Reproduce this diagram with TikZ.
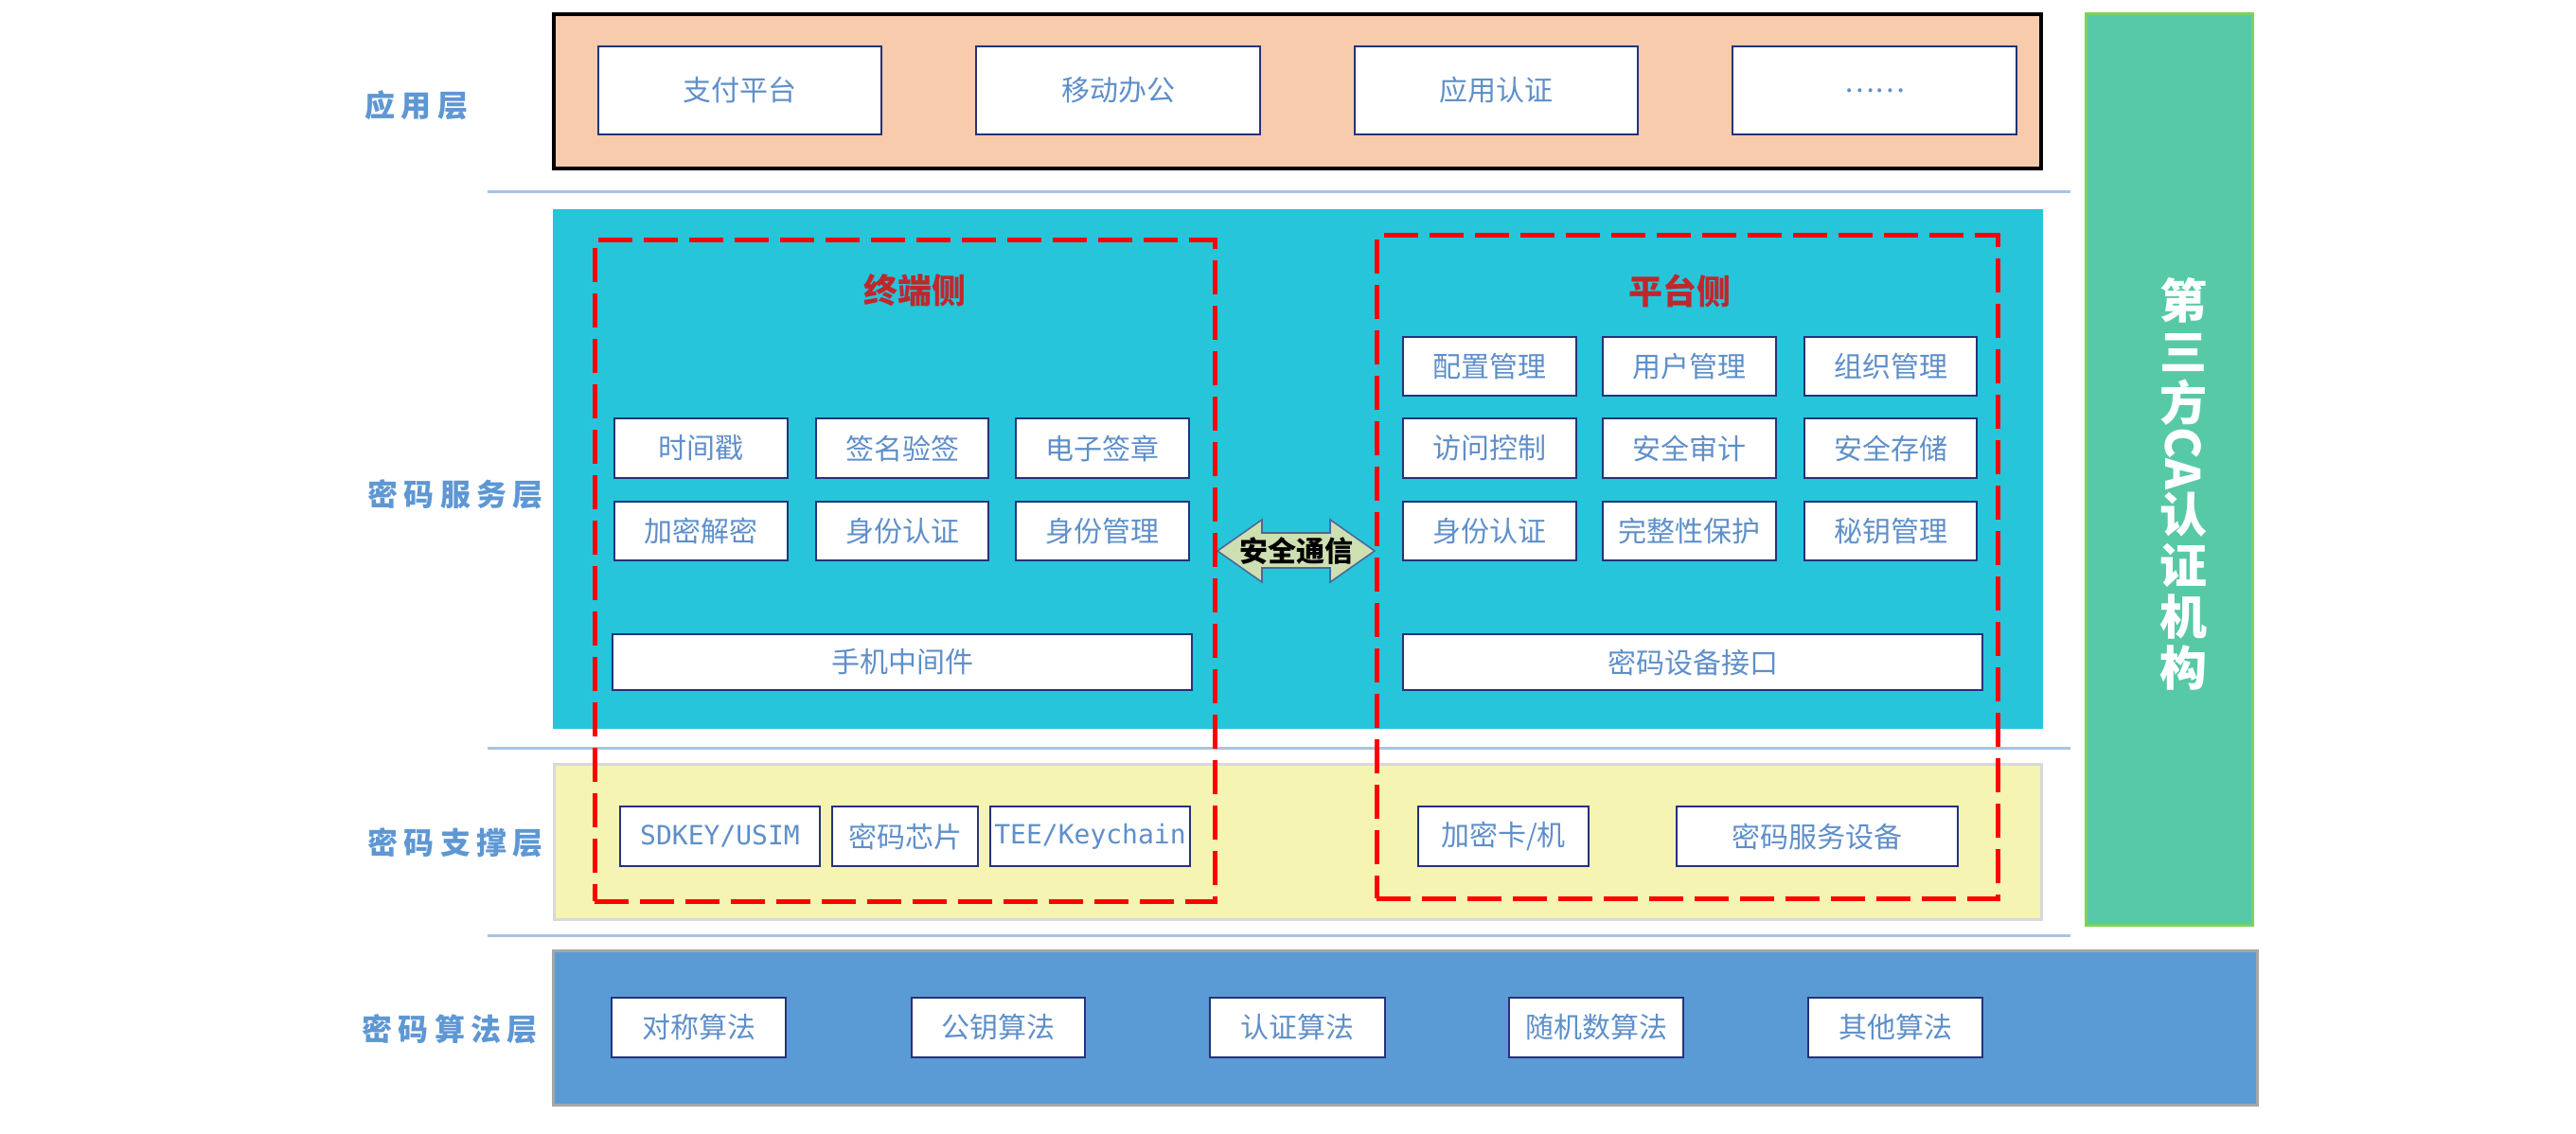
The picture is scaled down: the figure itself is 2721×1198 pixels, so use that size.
\documentclass[tikz,border=0pt]{standalone}
\usepackage{fontspec}
\usepackage{graphicx}
\setmainfont{Noto Sans CJK SC}
\newfontfamily\cjklab[LetterSpace=20]{Noto Sans CJK SC}
\newfontfamily\monofont{DejaVu Sans Mono}
\definecolor{appfill}{HTML}{F8CBAD}
\definecolor{svcfill}{HTML}{27C5DA}
\definecolor{supfill}{HTML}{F5F4B2}
\definecolor{supedge}{HTML}{D9D9D9}
\definecolor{algfill}{HTML}{5B9BD5}
\definecolor{algedge}{HTML}{A6A6A6}
\definecolor{cafill}{HTML}{57C9A6}
\definecolor{caedge}{HTML}{7FD15E}
\definecolor{sepline}{HTML}{A9C4E2}
\definecolor{txtblue}{HTML}{5F8FC9}
\definecolor{labblue}{HTML}{5E97D3}
\definecolor{boxedge}{HTML}{24337A}
\definecolor{darkred}{HTML}{C0272D}
\definecolor{dashred}{HTML}{FF0000}
\definecolor{arrowfill}{HTML}{CEDFB1}
\definecolor{arrowedge}{HTML}{4A6A9A}
\newcommand\bx[7][]{%
  \pgfmathsetmacro\bxw{(#5-#3)*0.5}%
  \pgfmathsetmacro\bxh{(#6-#4)*0.5}%
  \node[#1, minimum width=\bxw pt, minimum height=\bxh pt] (#2) at ({(#3+#5)/2},{(#4+#6)/2}) {#7};}
\tikzset{
  layer/.style={inner sep=0pt, outer sep=0pt, rectangle},
  wbox/.style={layer, draw=boxedge, line width=1pt, fill=white, text=txtblue,
    font=\fontsize{15pt}{18pt}\selectfont},
  mbox/.style={wbox, font=\monofont\fontsize{14pt}{17pt}\selectfont},
  lab/.style={text=labblue, font=\cjklab\bfseries\fontsize{16pt}{19pt}\selectfont},
  sidetitle/.style={text=darkred, font=\bfseries\fontsize{18pt}{21pt}\selectfont},
  dashbox/.style={layer, draw=dashred, line width=2.5pt, dash pattern=on 18pt off 6pt},
  sepl/.style={draw=sepline, line width=1.5pt}
}
\begin{document}
\begin{tikzpicture}[x=0.5pt, y=-0.5pt]
\useasboundingbox (0,0) rectangle (2721,1198);
% layer backgrounds
\bx[layer, draw=black, line width=2pt, fill=appfill]{app}{585}{15}{2156}{178}{}
\bx[layer, fill=svcfill]{svc}{584}{221}{2158}{770}{}
\bx[layer, draw=supedge, line width=1.5pt, fill=supfill]{sup}{585}{807}{2156}{971}{}
\bx[layer, draw=algedge, line width=1.5pt, fill=algfill]{alg}{584}{1004}{2384}{1167}{}
\bx[layer, draw=caedge, line width=1.5pt, fill=cafill]{ca}{2203}{15}{2379}{977}{}
\node[text=white, align=center, font=\bfseries\fontsize{25pt}{27pt}\selectfont] (catext) at (2306,511)
  {第\\三\\方\\\rotatebox[origin=c]{-90}{CA}\\认\\证\\机\\构};
% separators
\coordinate (s1a) at (515,203); \coordinate (s1b) at (2187,203);
\coordinate (s2a) at (515,790); \coordinate (s2b) at (2187,790);
\coordinate (s3a) at (515,988); \coordinate (s3b) at (2187,988);
\draw[sepl] (s1a) -- (s1b);
\draw[sepl] (s2a) -- (s2b);
\draw[sepl] (s3a) -- (s3b);
% layer labels
\node[lab] (l1) at (440,111) {应用层};
\node[lab] (l2) at (481,522) {密码服务层};
\node[lab] (l3) at (481,890) {密码支撑层};
\node[lab] (l4) at (475,1087) {密码算法层};
% application layer
\bx[wbox]{a1}{632}{49}{931}{142}{支付平台}
\bx[wbox]{a2}{1031}{49}{1331}{142}{移动办公}
\bx[wbox]{a3}{1431}{49}{1730}{142}{应用认证}
\bx[wbox]{a4}{1830}{49}{2130}{142}{……}
% terminal side
\node[sidetitle] (tt) at (966,307) {终端侧};
\bx[wbox]{t11}{649}{442}{832}{505}{时间戳}
\bx[wbox]{t12}{862}{442}{1044}{505}{签名验签}
\bx[wbox]{t13}{1073}{442}{1256}{505}{电子签章}
\bx[wbox]{t21}{649}{530}{832}{592}{加密解密}
\bx[wbox]{t22}{862}{530}{1044}{592}{身份认证}
\bx[wbox]{t23}{1073}{530}{1256}{592}{身份管理}
\bx[wbox]{tm}{647}{670}{1259}{729}{手机中间件}
% platform side
\node[sidetitle] (pt) at (1774,307) {平台侧};
\bx[wbox]{p11}{1482}{356}{1665}{418}{配置管理}
\bx[wbox]{p12}{1693}{356}{1876}{418}{用户管理}
\bx[wbox]{p13}{1906}{356}{2088}{418}{组织管理}
\bx[wbox]{p21}{1482}{442}{1665}{505}{访问控制}
\bx[wbox]{p22}{1693}{442}{1876}{505}{安全审计}
\bx[wbox]{p23}{1906}{442}{2088}{505}{安全存储}
\bx[wbox]{p31}{1482}{530}{1665}{592}{身份认证}
\bx[wbox]{p32}{1693}{530}{1876}{592}{完整性保护}
\bx[wbox]{p33}{1906}{530}{2088}{592}{秘钥管理}
\bx[wbox]{pm}{1482}{670}{2094}{729}{密码设备接口}
% support layer
\bx[mbox]{u1}{655}{852}{866}{915}{SDKEY/USIM}
\bx[wbox]{u2}{879}{852}{1033}{915}{密码芯片}
\bx[mbox]{u3}{1046}{852}{1257}{915}{TEE/Keychain}
\bx[wbox]{u4}{1498}{852}{1678}{915}{加密卡/机}
\bx[wbox]{u5}{1771}{852}{2068}{915}{密码服务设备}
% algorithm layer
\bx[wbox]{g1}{646}{1054}{830}{1117}{对称算法}
\bx[wbox]{g2}{963}{1054}{1146}{1117}{公钥算法}
\bx[wbox]{g3}{1278}{1054}{1463}{1117}{认证算法}
\bx[wbox]{g4}{1594}{1054}{1778}{1117}{随机数算法}
\bx[wbox]{g5}{1910}{1054}{2094}{1117}{其他算法}
% secure communication double arrow
\draw[fill=arrowfill, draw=arrowedge, line width=0.8pt]
  (1286,582) -- (1333,549) -- (1333,563) -- (1405,563) -- (1405,549) -- (1452,582)
  -- (1405,615) -- (1405,600) -- (1333,600) -- (1333,615) -- cycle;
% dashed group frames
\bx[dashbox]{term}{628}{254}{1283}{952}{}
\bx[dashbox]{plat}{1454}{249}{2110}{949}{}
\node[font=\bfseries\fontsize{15pt}{18pt}\selectfont, text=black] (sec) at (1369,582) {安全通信};
\end{tikzpicture}
\end{document}
